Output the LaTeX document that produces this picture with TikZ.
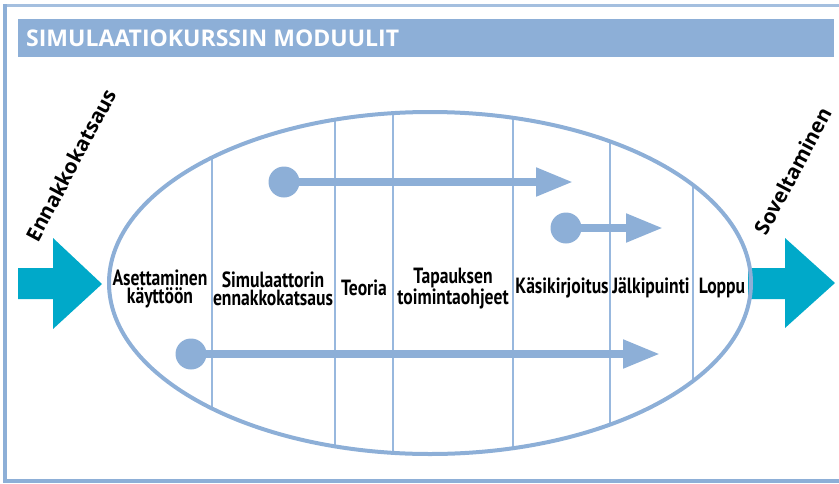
\documentclass[tikz,border=0pt]{standalone}
\usepackage{fontspec}
\setmainfont{Open Sans}
\newfontfamily\cellfont[FakeStretch=0.8]{PT Sans}
\usetikzlibrary{arrows.meta,shapes.geometric}

\definecolor{frameblue}{RGB}{141,175,215}
\definecolor{gridblue}{RGB}{152,184,222}
\definecolor{flowcyan}{RGB}{0,169,201}

\tikzset{
  cell/.style={font=\cellfont\bfseries\fontsize{22}{18.5}\selectfont, align=center, inner sep=0pt},
  sidelabel/.style={font=\bfseries\fontsize{20.5}{21}\selectfont, rotate=62, inner sep=0pt},
  startdot/.style={circle, fill=frameblue, minimum size=31pt, inner sep=0pt},
  flowline/.style={frameblue, line width=8pt, -{Triangle[length=37pt,width=27pt]}},
  bigarrow/.style={fill=flowcyan},
}

\begin{document}
\begin{tikzpicture}[x=1pt,y=-1pt]
\useasboundingbox (0,0) rectangle (839,483);

% outer frame (open on the right)
\draw[frameblue!80, line width=3pt] (850,5) -- (5,5);
\draw[frameblue, line width=4pt] (5,4) -- (5,480.5) -- (850,480.5);

% title bar
\node[fill=frameblue, anchor=north west, minimum width=816pt, minimum height=38pt, inner sep=0pt] (header) at (18,19) {};
\node[anchor=base west, text=white, font=\bfseries\fontsize{23}{23}\selectfont, inner sep=0pt] (title) at (26,46) {SIMULAATIOKURSSIN MODUULIT};

% incoming and outgoing arrows
\fill[bigarrow] (18,268) -- (53,268) -- (53,238) -- (102,284) -- (53,329) -- (53,299) -- (18,299) -- cycle;
\fill[bigarrow] (748,268) -- (785,268) -- (785,238) -- (835,283) -- (785,328) -- (785,299) -- (748,299) -- cycle;

% module separators inside the ellipse
\begin{scope}
  \clip (430,283) ellipse [x radius=321pt, y radius=171pt];
  \foreach \xx in {212,335,393,513,610,693}
    \draw[gridblue, line width=1.3pt] (\xx,100) -- (\xx,470);
\end{scope}

% course ellipse
\node[draw=frameblue, line width=4pt, ellipse, minimum width=642pt, minimum height=342pt, inner sep=0pt] (course) at (430,283) {};

% module names
\node[cell] (m1) at (160,289) {Asettaminen\\käyttöön};
\node[cell] (m2) at (273,289) {Simulaattorin\\ennakkokatsaus};
\node[cell] (m3) at (364,288) {Teoria};
\node[cell] (m4) at (453,289) {Tapauksen\\toimintaohjeet};
\node[cell] (m5) at (562,288) {Käsikirjoitus};
\node[cell] (m6) at (651,288) {Jälkipuinti};
\node[cell] (m7) at (722,288) {Loppu};

% spans running through the modules
\node[startdot] (d1) at (284,182) {};
\coordinate (e1) at (573,182);
\draw[flowline] (d1.center) -- (e1);

\node[startdot] (d2) at (566,228) {};
\coordinate (e2) at (663,228);
\draw[flowline] (d2.center) -- (e2);

\node[startdot] (d3) at (191,354) {};
\coordinate (e3) at (660,354);
\draw[flowline] (d3.center) -- (e3);

% side labels
\node[sidelabel] (before) at (71,165) {Ennakkokatsaus};
\node[sidelabel] (after) at (793,171) {Soveltaminen};
\end{tikzpicture}
\end{document}
